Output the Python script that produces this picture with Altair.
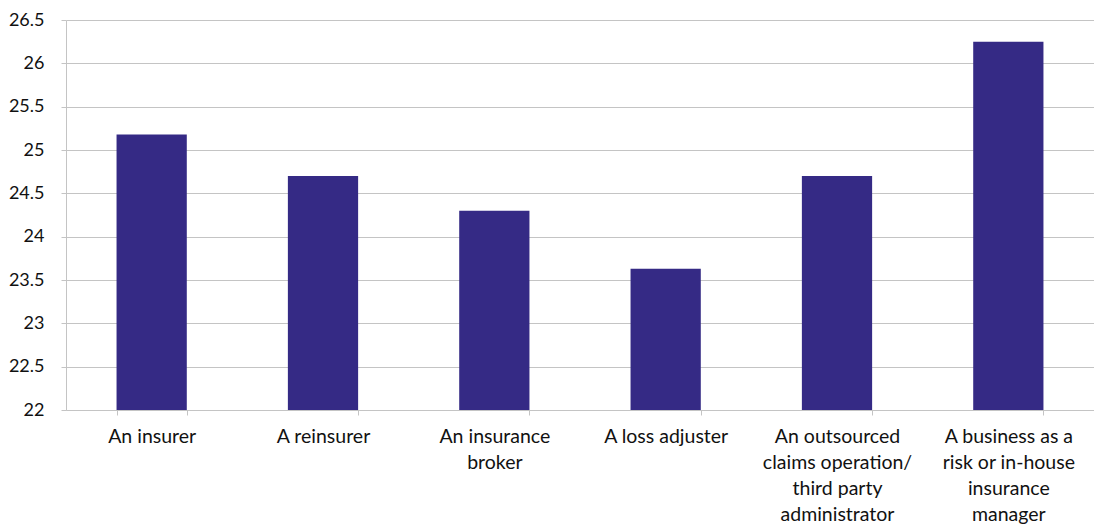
import altair as alt
import pandas as pd

categories = [
    "An insurer",
    "A reinsurer",
    "An insurance\nbroker",
    "A loss adjuster",
    "An outsourced\nclaims operation/\nthird party\nadministrator",
    "A business as a\nrisk or in-house\ninsurance\nmanager",
]
values = [25.18, 24.70, 24.30, 23.63, 24.70, 26.25]
y_ticks = [22, 22.5, 23, 23.5, 24, 24.5, 25, 25.5, 26, 26.5]

df = pd.DataFrame({"category": categories, "value": values})

FONT = "Lato"
GRID = "#c4c4c4"

chart = (
    alt.Chart(df)
    .mark_bar(color="#352a85")
    .encode(
        x=alt.X(
            "category:N",
            sort=categories,
            title=None,
            scale=alt.Scale(paddingInner=0.59, paddingOuter=0.295),
            axis=alt.Axis(
                labelAngle=0,
                labelExpr="split(datum.label, '\\n')",
                labelFont=FONT,
                labelFontSize=19.5,
                labelColor="#111111",
                labelLineHeight=26,
                labelPadding=12,
                labelLimit=0,
                tickBand="extent",
                tickSize=5,
                tickColor=GRID,
                domainColor=GRID,
                grid=False,
            ),
        ),
        y=alt.Y(
            "value:Q",
            title=None,
            scale=alt.Scale(domain=[22, 26.5], nice=False, zero=False),
            axis=alt.Axis(
                values=y_ticks,
                format="~g",
                labelFont=FONT,
                labelFontSize=18,
                labelColor="#111111",
                labelPadding=17,
                tickSize=5,
                tickColor=GRID,
                domainColor=GRID,
                gridColor=GRID,
            ),
        ),
        y2=alt.datum(22),
    )
    .properties(width=1028, height=390, padding={"left": 0, "top": 3, "right": 0, "bottom": 0})
    .configure_view(stroke=None)
)

chart.save("out.html", embed_options={"renderer": "svg", "actions": False})
